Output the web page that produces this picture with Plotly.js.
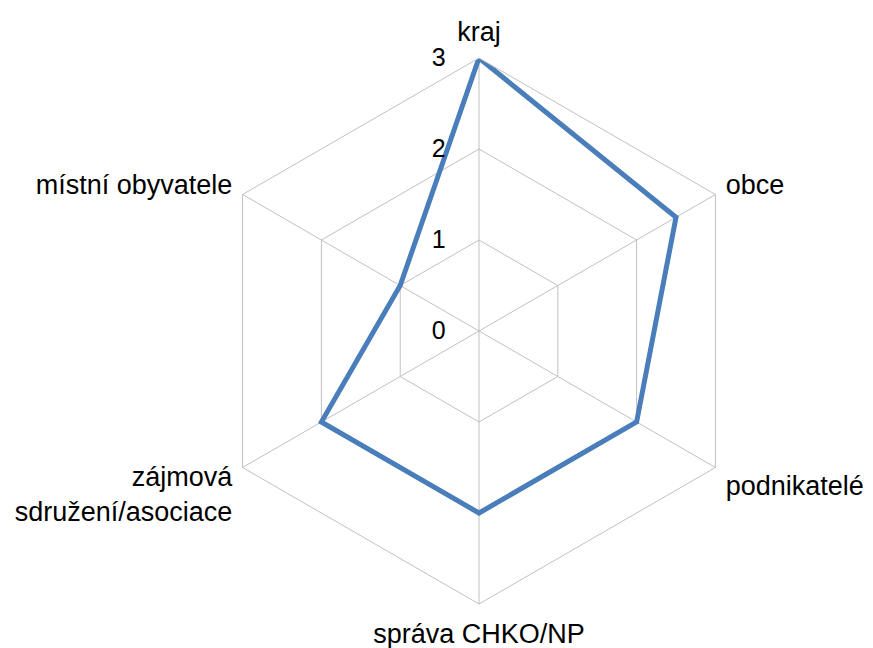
<!DOCTYPE html>
<html>
<head>
<meta charset="utf-8">
<script src="https://cdn.plot.ly/plotly-3.0.1.min.js"></script>
<style>html,body{margin:0;padding:0;background:#fff}#chart{width:873px;height:648px}</style>
</head>
<body>
<div id="chart"></div>
<script>
const categories = ["kraj", "obce", "podnikatelé", "správa CHKO/NP", "zájmová sdružení/asociace", "místní obyvatele"];
const categoryLabels = ["kraj", "obce", "podnikatelé", "správa CHKO/NP", "zájmová<br>sdružení/asociace", "místní obyvatele"];
const values = [3, 2.5, 2, 2, 2, 1];
const radialTicks = [0, 1, 2, 3];

const theta = categories.concat([categories[0]]);
const r = values.concat([values[0]]);

const trace = {
  type: "scatterpolar",
  mode: "lines",
  theta: theta,
  r: r,
  line: {color: "#4a7ebb", width: 5},
  hoverinfo: "skip",
  showlegend: false
};

const font = {family: "Liberation Sans, Arial, sans-serif", size: 27, color: "#000"};

const layout = {
  width: 873, height: 648,
  margin: {l: 0, r: 0, t: 0, b: 0},
  paper_bgcolor: "#fff",
  plot_bgcolor: "#fff",
  font: font,
  polar: {
    domain: {x: [206/873, 752/873], y: [44/648, 590/648]},
    gridshape: "linear",
    bgcolor: "#fff",
    radialaxis: {
      range: [0, 3],
      tickvals: radialTicks,
      ticktext: radialTicks.map(String),
      angle: 90,
      tickangle: 90,
      side: "counterclockwise",
      showline: false,
      ticks: "outside",
      ticklen: 24,
      tickcolor: "rgba(0,0,0,0)",
      gridcolor: "#c0c0c0",
      gridwidth: 1,
      tickfont: {family: font.family, size: 25, color: "#000"}
    },
    angularaxis: {
      direction: "clockwise",
      rotation: 90,
      categoryorder: "array",
      categoryarray: categories,
      tickvals: categories,
      ticktext: categoryLabels,
      showline: true,
      linecolor: "#c0c0c0",
      gridcolor: "#c0c0c0",
      ticks: "outside",
      ticklen: 6,
      tickcolor: "rgba(0,0,0,0)",
      tickfont: font
    }
  }
};

Plotly.newPlot("chart", [trace], layout, {staticPlot: true, displayModeBar: false});
</script>
</body>
</html>
